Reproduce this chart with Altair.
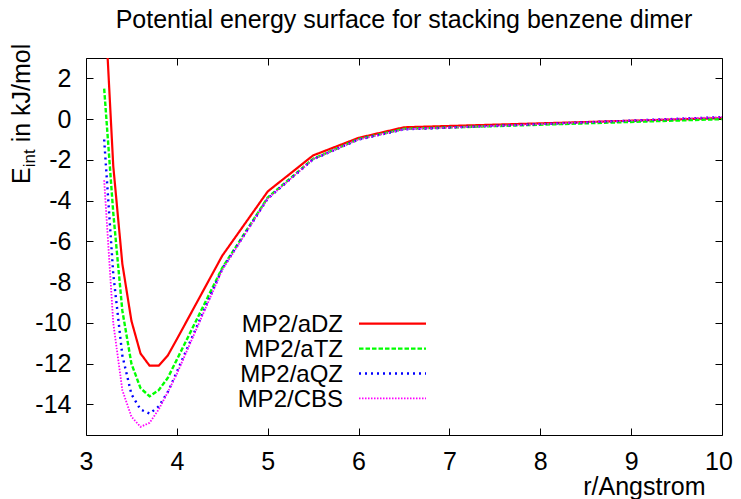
import altair as alt
import pandas as pd

# ---------------- data ----------------
r_angstrom = [3.2, 3.3, 3.4, 3.5, 3.6, 3.7, 3.8, 3.9, 4.0, 4.5, 5.0, 5.5, 6.0, 6.5, 10.0]
e_mp2_adz = [6.3, -2.3, -7.1, -9.9, -11.5, -12.1, -12.1, -11.6, -10.8, -6.7, -3.55, -1.78, -0.92, -0.40, 0.05]
e_mp2_atz = [1.5, -4.6, -9.4, -12.0, -13.2, -13.6, -13.3, -12.7, -11.8, -7.3, -3.85, -1.95, -0.98, -0.48, 0.00]
e_mp2_aqz = [-1.0, -7.6, -11.6, -13.5, -14.25, -14.45, -14.1, -13.4, -12.4, -7.35, -3.90, -1.97, -1.00, -0.50, 0.10]
e_mp2_cbs = [-3.0, -10.0, -13.3, -14.6, -15.1, -14.9, -14.25, -13.4, -12.5, -7.4, -3.90, -1.97, -1.00, -0.50, 0.10]
series_names = ["MP2/aDZ", "MP2/aTZ", "MP2/aQZ", "MP2/CBS"]
x_ticks = [3, 4, 5, 6, 7, 8, 9, 10]
y_ticks = [-14, -12, -10, -8, -6, -4, -2, 0, 2]
chart_title = "Potential energy surface for stacking benzene dimer"

# ---------------- styling ----------------
FONT = "Liberation Sans"
FS = 25
W, H = 636, 377
X_DOMAIN = [3, 10]
Y_DOMAIN = [-15.5, 3]
colors = ["#ff0000", "#00ff00", "#0000ff", "#ff00ff"]
dashes = [[1, 0], [4.5, 2], [2, 4], [1.5, 1.5]]
widths = [2.2, 2.4, 2.4, 1.8]

rows = []
for name, vals in zip(series_names, [e_mp2_adz, e_mp2_atz, e_mp2_aqz, e_mp2_cbs]):
    for r, e in zip(r_angstrom, vals):
        rows.append({"series": name, "r": r, "E": e})
df = pd.DataFrame(rows)

xs = alt.Scale(domain=X_DOMAIN, nice=False, zero=False)
ys = alt.Scale(domain=Y_DOMAIN, nice=False, zero=False)

tick_common = dict(tickSize=7, offset=-7, domain=False, grid=False,
                   tickColor="black", tickWidth=1)
label_expr = "'' + datum.value"

x_bottom = alt.Axis(orient="bottom", values=x_ticks, labelExpr=label_expr, labelFont=FONT,
                    labelFontSize=FS, labelColor="black", labelPadding=14,
                    labelFlush=False, labelOverlap=False,
                    labelOffset={"condition": {"test": "datum.value == 10", "value": -3.5}, "value": 0},
                    title="r/Angstrom", titleFont=FONT, titleFontSize=FS,
                    titleFontWeight="normal", titleColor="black",
                    titleAlign="right", titleBaseline="alphabetic",
                    titleX=619, titleY=66, titleAngle=0, **tick_common)
y_left = alt.Axis(orient="left", values=y_ticks, labelExpr=label_expr, labelFont=FONT,
                  labelFontSize=FS, labelColor="black", labelPadding=15,
                  labelFlush=False, labelOverlap=False, title=None, **tick_common)
x_top = alt.Axis(orient="top", values=x_ticks, labels=False, title=None, **tick_common)
y_right = alt.Axis(orient="right", values=y_ticks, labels=False, title=None, **tick_common)

layers = []
for i, name in enumerate(series_names):
    if i == 0:
        xa, ya = x_bottom, y_left
    elif i == 1:
        xa, ya = x_top, y_right
    else:
        xa, ya = None, None
    xenc = alt.X("r:Q", scale=xs, axis=xa)
    yenc = alt.Y("E:Q", scale=ys, axis=ya)
    layers.append(
        alt.Chart(df)
        .transform_filter(alt.datum.series == name)
        .mark_line(clip=True, color=colors[i], strokeDash=dashes[i], strokeWidth=widths[i])
        .encode(x=xenc, y=yenc)
    )

# ---------------- legend (gnuplot style: label then sample) ----------------
LEG_FS = 24
leg_top, leg_step = 265.7, 24.9
for i, name in enumerate(series_names):
    row_y = leg_top + i * leg_step
    ldf = pd.DataFrame({"series": [name]})
    layers.append(
        alt.Chart(ldf).mark_text(align="right", baseline="middle", font=FONT,
                                 fontSize=LEG_FS, color="black")
        .encode(x=alt.value(257), y=alt.value(row_y + 1.5), text="series:N")
    )
    layers.append(
        alt.Chart(ldf).mark_rule(color=colors[i], strokeDash=dashes[i], strokeWidth=widths[i])
        .encode(x=alt.value(273), x2=alt.value(340), y=alt.value(row_y))
    )

# ---------------- y axis title with subscript ----------------
ytitle_parts = [("E", FS, -56.5, 126.0), ("int", 17, -51.0, 109.3), ("in kJ/mol", FS, -56.5, 84.3)]
for txt, size, px, py in ytitle_parts:
    layers.append(
        alt.Chart(pd.DataFrame({"t": [txt]}))
        .mark_text(angle=270, align="left", baseline="alphabetic", font=FONT,
                   fontSize=size, color="black")
        .encode(x=alt.value(px), y=alt.value(py), text="t:N")
    )

# ---------------- chart title ----------------
layers.append(
    alt.Chart(pd.DataFrame({"t": [chart_title]}))
    .mark_text(align="center", baseline="alphabetic", font=FONT, fontSize=FS, color="black")
    .encode(x=alt.value(W / 2), y=alt.value(-30.5), text="t:N")
)

chart = (
    alt.layer(*layers)
    .resolve_axis(x="independent", y="independent")
    .properties(
        width=W, height=H,
        padding={"left": 78, "top": 50, "right": 11, "bottom": 64},
        autosize=alt.AutoSizeParams(type="none"),
        background="white",
    )
    .configure_view(stroke="black", strokeWidth=1)
)

chart.save("out.html", embed_options={"renderer": "svg", "actions": False})
